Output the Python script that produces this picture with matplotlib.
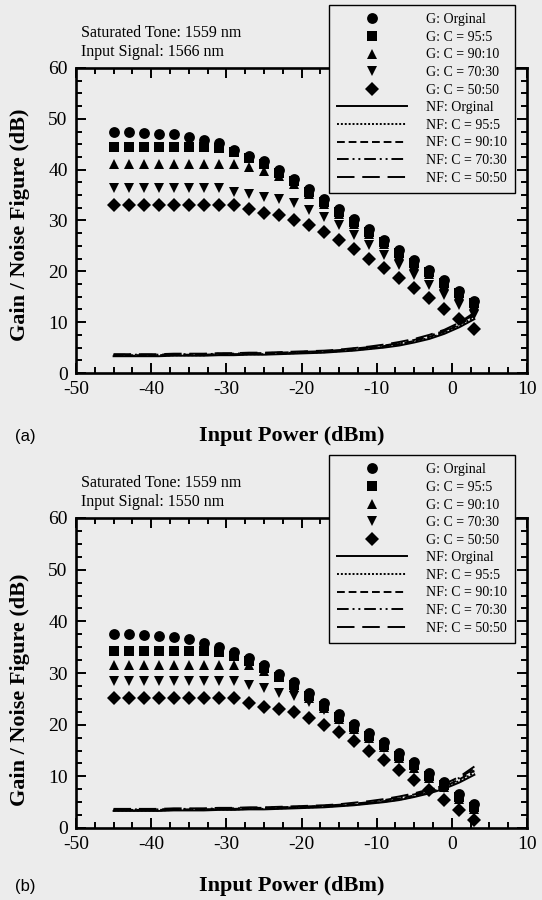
import numpy as np
import matplotlib
matplotlib.use("Agg")
import matplotlib.pyplot as plt
from matplotlib.ticker import MultipleLocator
from matplotlib.lines import Line2D

plt.rcParams['font.family'] = ['Liberation Serif', 'DejaVu Serif']
plt.rcParams['axes.unicode_minus'] = False

# input power (dBm)
pin = [-45, -43, -41, -39, -37, -35, -33, -31, -29, -27, -25, -23, -21,
       -19, -17, -15, -13, -11, -9, -7, -5, -3, -1, 1, 3]

# (a) input signal 1566 nm
g_orig_a = [47.5, 47.5, 47.3, 47.1, 47.0, 46.5, 45.9, 45.3, 43.8, 42.7, 41.7, 39.9, 38.2,
            36.2, 34.2, 32.2, 30.2, 28.3, 26.2, 24.2, 22.2, 20.3, 18.2, 16.2, 14.2]
g_95_a = [44.4, 44.4, 44.4, 44.4, 44.4, 44.4, 44.4, 44.3, 43.4, 42.2, 41.1, 39.4, 37.7,
          35.7, 33.7, 31.7, 29.7, 27.8, 25.7, 23.7, 21.7, 19.8, 17.7, 15.7, 13.7]
g_90_a = [41.2, 41.2, 41.2, 41.2, 41.2, 41.2, 41.2, 41.2, 41.1, 40.5, 39.8, 38.8, 37.2,
          35.3, 33.3, 31.3, 29.3, 27.4, 25.3, 23.3, 21.3, 19.4, 17.3, 15.3, 13.3]
g_70_a = [36.3, 36.3, 36.3, 36.3, 36.3, 36.3, 36.3, 36.3, 35.7, 35.2, 34.7, 34.2, 33.4,
          32.1, 30.6, 29.1, 27.2, 25.2, 23.2, 21.3, 19.3, 17.3, 15.4, 13.4, 11.4]
g_50_a = [33.1, 33.1, 33.1, 33.1, 33.1, 33.1, 33.1, 33.1, 33.1, 32.2, 31.5, 31.1, 30.1,
          29.1, 27.8, 26.2, 24.3, 22.5, 20.6, 18.6, 16.7, 14.7, 12.6, 10.6, 8.6]
nf_orig_a = [3.3, 3.3, 3.3, 3.3, 3.4, 3.4, 3.4, 3.5, 3.5, 3.6, 3.6, 3.7, 3.8,
             3.9, 4.0, 4.2, 4.4, 4.7, 5.0, 5.4, 6.0, 6.7, 7.7, 9.0, 10.6]
nf_95_a = [3.4, 3.4, 3.4, 3.4, 3.5, 3.5, 3.5, 3.6, 3.6, 3.7, 3.7, 3.8, 3.9,
           4.0, 4.1, 4.3, 4.5, 4.8, 5.1, 5.6, 6.2, 6.9, 7.9, 9.3, 11.0]
nf_90_a = [3.5, 3.5, 3.5, 3.5, 3.6, 3.6, 3.6, 3.7, 3.7, 3.8, 3.8, 3.9, 4.0,
           4.1, 4.2, 4.4, 4.6, 4.9, 5.3, 5.7, 6.3, 7.1, 8.1, 9.5, 11.3]
nf_70_a = [3.6, 3.6, 3.6, 3.6, 3.7, 3.7, 3.7, 3.8, 3.8, 3.9, 3.9, 4.0, 4.1,
           4.2, 4.3, 4.5, 4.8, 5.1, 5.4, 5.9, 6.5, 7.3, 8.3, 9.7, 11.6]
nf_50_a = [3.7, 3.7, 3.7, 3.7, 3.8, 3.8, 3.8, 3.9, 3.9, 4.0, 4.0, 4.1, 4.2,
           4.3, 4.4, 4.6, 4.9, 5.2, 5.6, 6.1, 6.7, 7.5, 8.5, 9.9, 11.9]

# (b) input signal 1550 nm
g_orig_b = [37.5, 37.5, 37.3, 37.1, 36.9, 36.6, 35.9, 35.1, 34.0, 32.9, 31.6, 29.8, 28.2,
            26.2, 24.2, 22.1, 20.2, 18.4, 16.6, 14.6, 12.7, 10.7, 9.0, 6.6, 4.7]
g_95_b = [34.3, 34.3, 34.3, 34.3, 34.3, 34.3, 34.3, 34.1, 33.3, 32.3, 31.0, 29.2, 27.6,
          25.6, 23.6, 21.5, 19.6, 17.8, 16.0, 14.0, 12.1, 10.1, 8.4, 6.0, 4.1]
g_90_b = [31.5, 31.5, 31.5, 31.5, 31.5, 31.5, 31.5, 31.5, 31.5, 31.5, 30.4, 29.3, 27.3,
          25.2, 23.2, 21.1, 19.2, 17.4, 15.6, 13.6, 11.7, 9.7, 8.0, 5.6, 3.7]
g_70_b = [28.4, 28.4, 28.4, 28.4, 28.4, 28.4, 28.4, 28.4, 28.4, 27.6, 27.1, 26.2, 25.5,
          24.3, 22.8, 20.9, 19.0, 17.2, 15.4, 13.4, 11.5, 9.5, 7.8, 5.4, 3.5]
g_50_b = [25.1, 25.1, 25.1, 25.1, 25.1, 25.1, 25.1, 25.1, 25.1, 24.2, 23.5, 23.0, 22.4,
          21.3, 20.0, 18.5, 16.8, 15.0, 13.1, 11.3, 9.3, 7.4, 5.5, 3.4, 1.5]
nf_orig_b = [3.3, 3.3, 3.3, 3.3, 3.4, 3.4, 3.4, 3.5, 3.5, 3.6, 3.6, 3.7, 3.8,
             3.9, 4.0, 4.2, 4.4, 4.7, 5.0, 5.4, 6.0, 6.7, 7.6, 8.8, 10.3]
nf_95_b = [3.4, 3.4, 3.4, 3.4, 3.5, 3.5, 3.5, 3.6, 3.6, 3.7, 3.7, 3.8, 3.9,
           4.0, 4.1, 4.3, 4.5, 4.8, 5.1, 5.5, 6.1, 6.9, 7.8, 9.1, 10.7]
nf_90_b = [3.5, 3.5, 3.5, 3.5, 3.6, 3.6, 3.6, 3.7, 3.7, 3.8, 3.8, 3.9, 4.0,
           4.1, 4.2, 4.4, 4.6, 4.9, 5.2, 5.7, 6.3, 7.1, 8.0, 9.4, 11.1]
nf_70_b = [3.6, 3.6, 3.6, 3.6, 3.7, 3.7, 3.7, 3.8, 3.8, 3.9, 3.9, 4.0, 4.1,
           4.2, 4.3, 4.5, 4.7, 5.0, 5.4, 5.9, 6.5, 7.3, 8.3, 9.7, 11.5]
nf_50_b = [3.7, 3.7, 3.7, 3.7, 3.8, 3.8, 3.8, 3.9, 3.9, 4.0, 4.0, 4.1, 4.2,
           4.3, 4.4, 4.6, 4.9, 5.2, 5.6, 6.1, 6.7, 7.5, 8.5, 9.9, 11.9]

g_labels = ['G: Orginal', 'G: C = 95:5', 'G: C = 90:10', 'G: C = 70:30', 'G: C = 50:50']
nf_labels = ['NF: Orginal', 'NF: C = 95:5', 'NF: C = 90:10', 'NF: C = 70:30', 'NF: C = 50:50']
markers = ['o', 's', '^', 'v', 'D']
msizes = [7.8, 6.8, 7.8, 7.8, 6.8]
lstyles = ['-', (0, (1, 1)), (0, (4, 2)), (0, (6, 2, 1, 2, 1, 2)), (0, (9, 4))]

panels = [
    dict(g=[g_orig_a, g_95_a, g_90_a, g_70_a, g_50_a],
         nf=[nf_orig_a, nf_95_a, nf_90_a, nf_70_a, nf_50_a],
         signal='Input Signal: 1566 nm', tag='(a)'),
    dict(g=[g_orig_b, g_95_b, g_90_b, g_70_b, g_50_b],
         nf=[nf_orig_b, nf_95_b, nf_90_b, nf_70_b, nf_50_b],
         signal='Input Signal: 1550 nm', tag='(b)'),
]

W, H = 542, 900
bg = '#ececec'
fig = plt.figure(figsize=(W / 100, H / 100), dpi=100, facecolor=bg)

# axes boxes in pixels: left, top, right, bottom
boxes = [(76, 68, 527, 373), (76, 518, 527, 828)]
ylab_y = [225, 690]
xlab_y = [436, 886]


def fx(px):
    return px / W


def fy(py):
    return 1 - py / H


for p, (l, t, r, b), yl, xl in zip(panels, boxes, ylab_y, xlab_y):
    ax = fig.add_axes([fx(l), fy(b), fx(r - l), (b - t) / H])
    ax.set_facecolor(bg)

    for ys, m, ms in zip(p['g'], markers, msizes):
        ax.plot(pin, ys, linestyle='none', marker=m, markersize=ms,
                color='black', markeredgewidth=0)
    for ys, ls in zip(p['nf'], lstyles):
        ax.plot(pin, ys, linestyle=ls, color='black', linewidth=1.4)

    ax.set_xlim(-50, 10)
    ax.set_ylim(0, 60)
    ax.xaxis.set_major_locator(MultipleLocator(10))
    ax.xaxis.set_minor_locator(MultipleLocator(2.5))
    ax.yaxis.set_major_locator(MultipleLocator(10))
    ax.yaxis.set_minor_locator(MultipleLocator(2.5))
    ax.tick_params(which='both', direction='in', top=True, right=True,
                   labelsize=14, width=1.4)
    ax.tick_params(which='major', length=7, pad=6)
    ax.tick_params(which='minor', length=4)
    for s in ax.spines.values():
        s.set_linewidth(1.9)

    fig.text(fx(81), fy(t - 35), 'Saturated Tone: 1559 nm', fontsize=11.5,
             ha='left', va='center')
    fig.text(fx(81), fy(t - 16), p['signal'], fontsize=11.5,
             ha='left', va='center')

    fig.text(fx(20), fy(yl), 'Gain / Noise Figure (dB)', rotation=90,
             fontsize=16, fontweight='bold', ha='center', va='center')
    fig.text(fx(292), fy(xl), 'Input Power (dBm)', fontsize=16,
             fontweight='bold', ha='center', va='center')
    fig.text(fx(25), fy(xl), p['tag'], fontsize=12, ha='center', va='center',
             family=['Liberation Sans', 'DejaVu Sans'])

    handles = [Line2D([], [], linestyle='none', marker=m, markersize=ms,
                      color='black', markeredgewidth=0)
               for m, ms in zip(markers, msizes)]
    handles += [Line2D([], [], linestyle=ls, color='black', linewidth=1.4)
                for ls in lstyles]
    leg = ax.legend(handles, g_labels + nf_labels, loc='upper right',
                    bbox_to_anchor=(fx(515), fy(t - 63)),
                    bbox_transform=fig.transFigure, borderaxespad=0,
                    fontsize=10, handlelength=5.0, handletextpad=1.35,
                    labelspacing=0.33, borderpad=0.6, fancybox=False,
                    framealpha=1, facecolor=bg, edgecolor='black')
    leg.get_frame().set_linewidth(1.0)
    leg.set_zorder(5)

fig.savefig('out.png', dpi=100, facecolor=bg)
